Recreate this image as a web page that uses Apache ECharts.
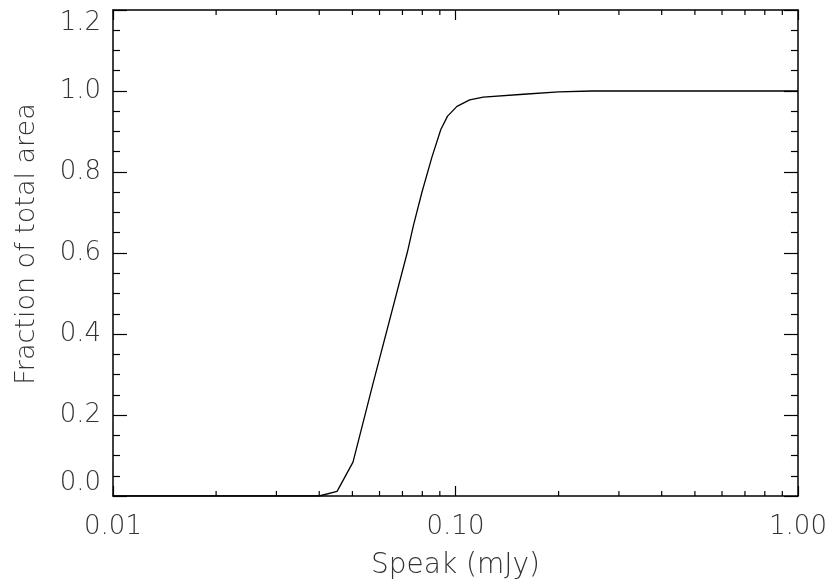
<!DOCTYPE html>
<html>
<head>
<meta charset="utf-8">
<script src="https://cdn.jsdelivr.net/npm/echarts@6/dist/echarts.min.js"></script>
<style>html,body{margin:0;padding:0;background:#fff;}#c{width:834px;height:586px;}</style>
</head>
<body>
<div id="c"></div>
<script>
// Data
const speak = [0.010, 0.040, 0.0451, 0.0502, 0.0574, 0.0724, 0.0754, 0.0798, 0.0853, 0.0906, 0.0948, 0.101, 0.110, 0.1205, 0.158, 0.200, 0.250, 1.000];
const fraction = [0, 0, 0.0115, 0.0835, 0.277, 0.603, 0.669, 0.750, 0.836, 0.905, 0.938, 0.962, 0.978, 0.985, 0.992, 0.998, 1.0, 1.0];
const xMinorTicks = [0.02, 0.03, 0.04, 0.05, 0.06, 0.07, 0.08, 0.09, 0.2, 0.3, 0.4, 0.5, 0.6, 0.7, 0.8, 0.9];
const xTitle = 'Speak (mJy)';
const yTitle = 'Fraction of total area';

const FONT = 'DejaVu Sans';
const TXT = '#333';

const chart = echarts.init(document.getElementById('c'), null, {renderer: 'canvas'});

const lineData = speak.map((v, i) => [v, fraction[i]]);

const xBase = {
  type: 'log', logBase: 10, min: 0.01, max: 1,
  axisLine: {show: true, onZero: false, lineStyle: {color: '#000', width: 1.5}},
  axisTick: {show: true, inside: true, length: 10, lineStyle: {color: '#000', width: 1.2}},
  splitLine: {show: false}
};
const yBase = {
  type: 'value', min: 0, max: 1.2, interval: 0.2,
  axisLine: {show: true, onZero: false, lineStyle: {color: '#000', width: 1.5}},
  axisTick: {show: true, inside: true, length: 14, lineStyle: {color: '#000', width: 1.2}},
  minorTick: {show: true, splitNumber: 4, length: 7, lineStyle: {color: '#000', width: 1.2}},
  splitLine: {show: false}
};

chart.setOption({
  animation: false,
  backgroundColor: '#fff',
  grid: {left: 113, right: 36, top: 10, bottom: 90, containLabel: false},
  xAxis: [
    Object.assign({}, xBase, {
      position: 'bottom',
      name: xTitle, nameLocation: 'middle', nameGap: 56,
      nameTextStyle: {fontFamily: FONT, fontSize: 28, fontWeight: 200, color: TXT},
      axisLabel: {show: true, margin: 18, fontFamily: FONT, fontSize: 26, fontWeight: 200, color: TXT,
        formatter: v => Number(v).toFixed(2)}
    }),
    Object.assign({}, xBase, {position: 'top', axisLabel: {show: false}})
  ],
  yAxis: [
    Object.assign({}, yBase, {
      position: 'left',
      name: yTitle, nameLocation: 'middle', nameGap: 73,
      nameTextStyle: {fontFamily: FONT, fontSize: 27, fontWeight: 200, color: TXT, padding: [0, 0, 0, 18]},
      axisLabel: {show: true, margin: 12, fontFamily: FONT, fontSize: 26, fontWeight: 200, color: TXT,
        verticalAlignMinLabel: 'bottom', verticalAlignMaxLabel: 'top',
        formatter: v => Number(v).toFixed(1)}
    }),
    Object.assign({}, yBase, {position: 'right', axisLabel: {show: false}})
  ],
  series: [
    {
      type: 'line', data: lineData, xAxisIndex: 0, yAxisIndex: 0,
      showSymbol: false, symbol: 'none', smooth: false,
      lineStyle: {color: '#000', width: 1.3}, silent: true, clip: true
    },
    {
      type: 'custom', xAxisIndex: 0, yAxisIndex: 0, silent: true, clip: false,
      data: xMinorTicks.map(v => [v, 0]),
      renderItem: function (params, api) {
        const v = api.value(0);
        const b = api.coord([v, 0]);
        const t = api.coord([v, 1.2]);
        const st = {stroke: '#000', lineWidth: 1.2};
        return {
          type: 'group',
          children: [
            {type: 'line', shape: {x1: b[0], y1: b[1], x2: b[0], y2: b[1] - 5}, style: st},
            {type: 'line', shape: {x1: t[0], y1: t[1], x2: t[0], y2: t[1] + 5}, style: st}
          ]
        };
      }
    }
  ]
});
</script>
</body>
</html>
